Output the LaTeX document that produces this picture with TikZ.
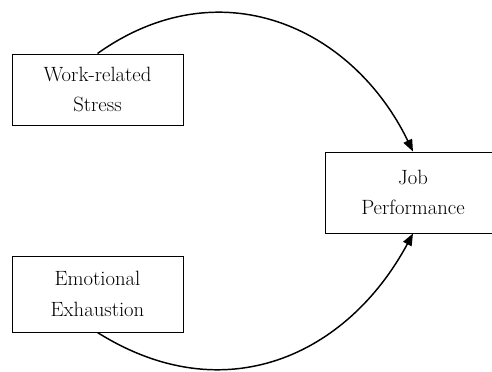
\documentclass[tikz,border=0pt]{standalone}
\usetikzlibrary{arrows.meta}
\begin{document}
\begin{tikzpicture}[x=0.75pt,y=-0.75pt,
  box/.style={draw, line width=0.75pt, minimum width=171*0.75pt, align=center,
    font=\fontsize{15.5pt}{23pt}\selectfont, inner sep=0pt},
  link/.style={line width=1.1pt, -{Stealth[length=9pt,width=7pt,inset=0pt]}}]
\clip (0,0) rectangle (492,371);
\useasboundingbox (0,0) rectangle (492,371);
\node[box, minimum height=71*0.75pt] (wrs) at (97.5,89.5) {Work-related\\Stress};
\node[box, minimum height=76*0.75pt] (ee) at (97.5,294) {Emotional\\Exhaustion};
\node[box, minimum width=176*0.75pt, minimum height=81*0.75pt] (jp) at (413,192.5) {Job\\Performance};
\draw[link] (wrs.north) .. controls (219,-33) and (352,26) .. (jp.north);
\draw[link] (ee.south) .. controls (224,412) and (347,356) .. (jp.south);
\end{tikzpicture}
\end{document}
